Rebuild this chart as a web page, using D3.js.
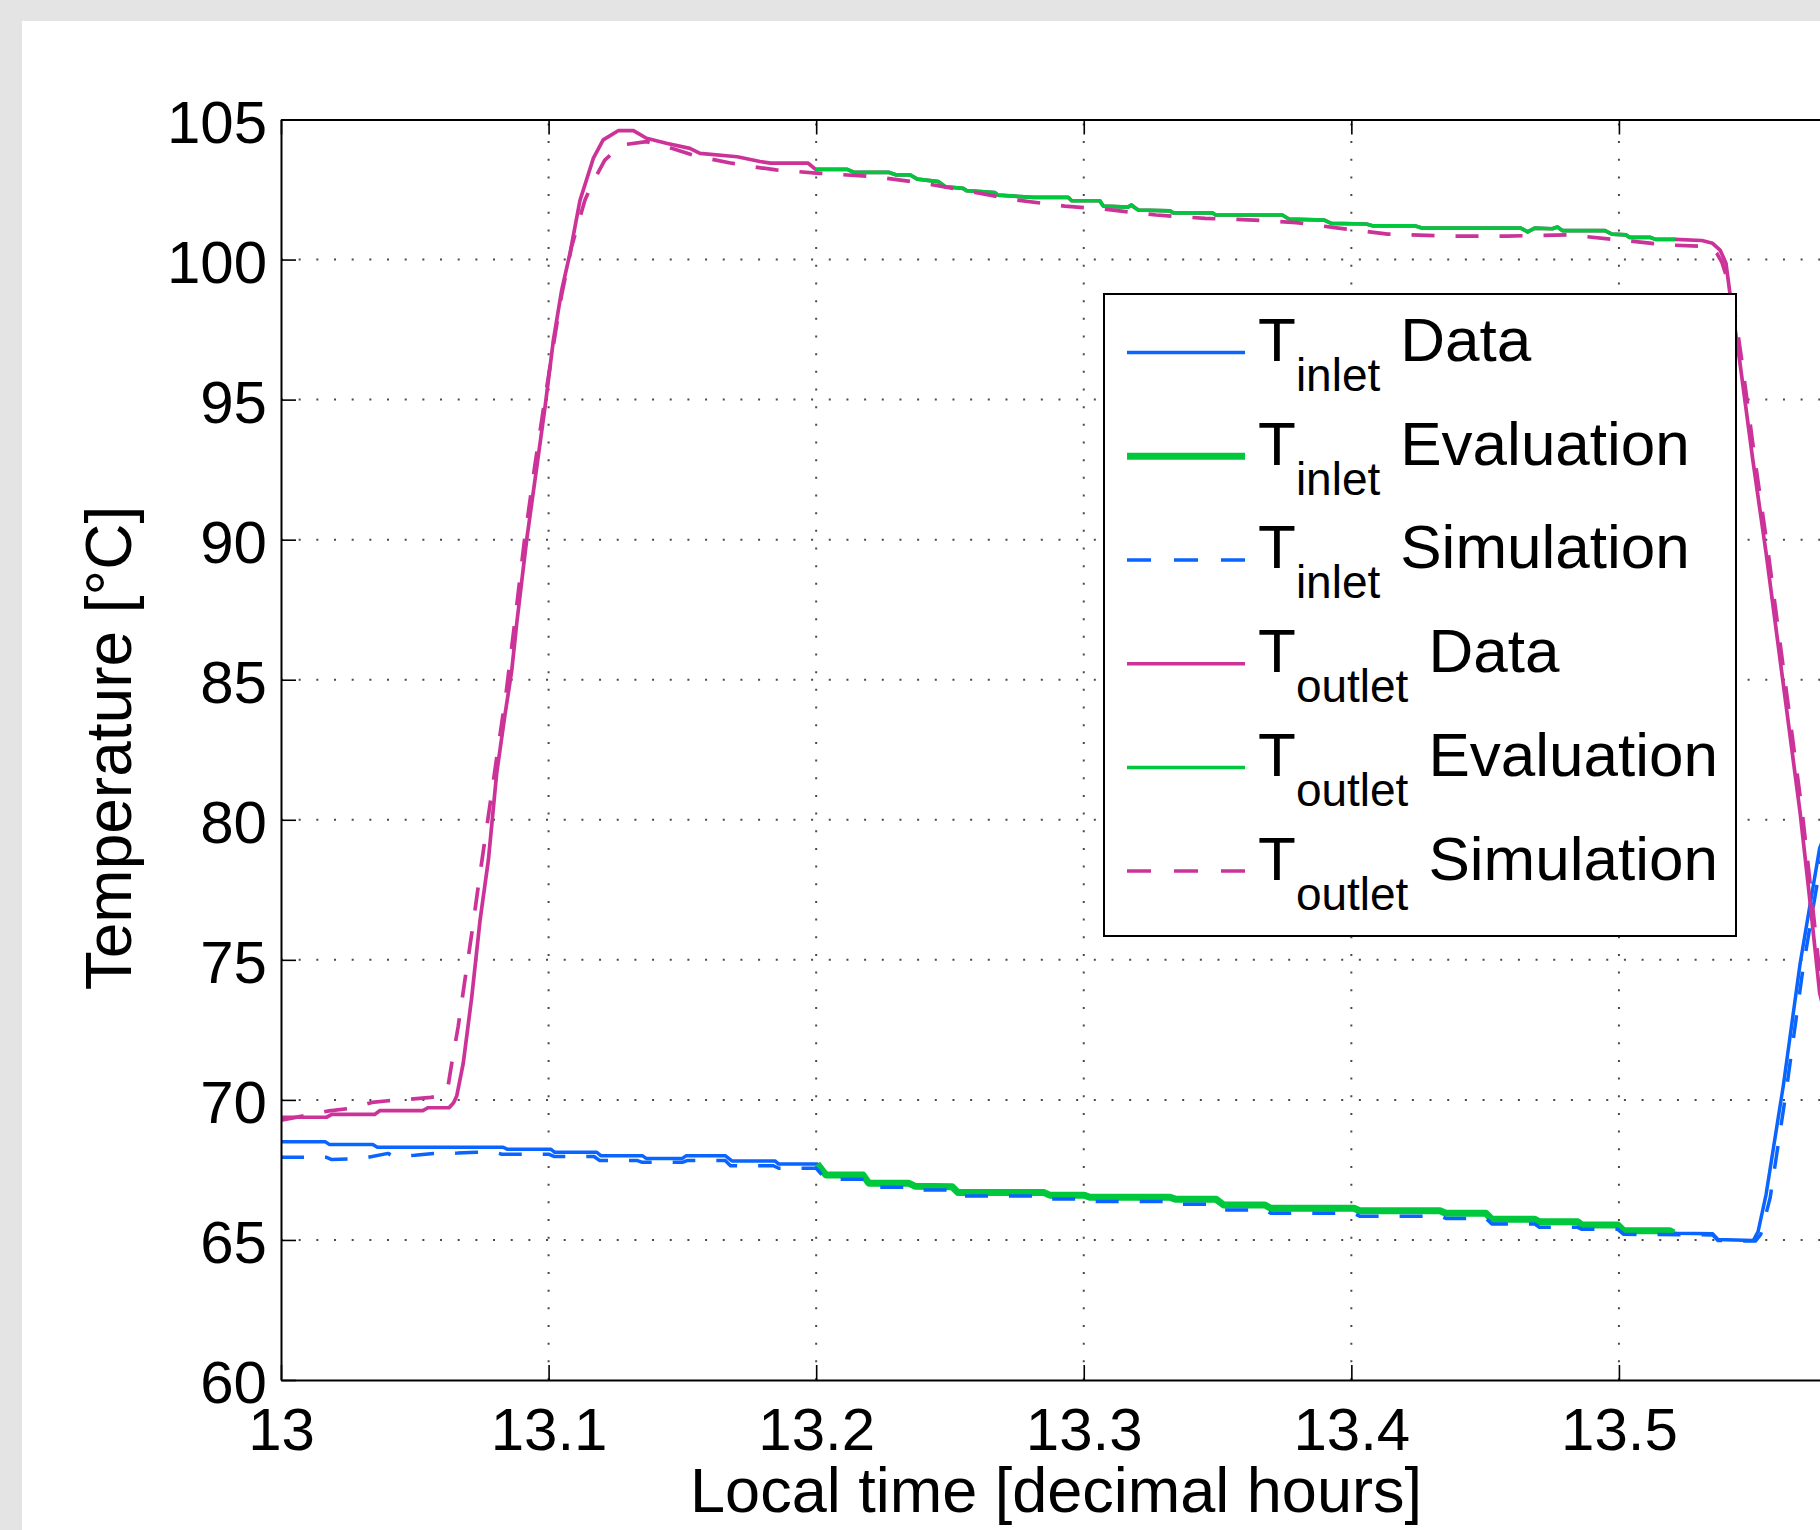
<!DOCTYPE html>
<html>
<head>
<meta charset="utf-8">
<script src="https://cdn.jsdelivr.net/npm/d3@7"></script>
<style>
  html, body { margin: 0; padding: 0; background: #e4e4e4; }
  svg { display: block; }
  text { font-family: "Liberation Sans", Arial, Helvetica, sans-serif; fill: #000; }
</style>
</head>
<body>
<svg id="chart" width="1820" height="1530"></svg>
<script>
// ---------------- DATA ----------------
const xTicks = [13, 13.1, 13.2, 13.3, 13.4, 13.5];
const xTickLabels = ["13", "13.1", "13.2", "13.3", "13.4", "13.5"];
const yTicks = [60, 65, 70, 75, 80, 85, 90, 95, 100, 105];
const yTickLabels = ["60", "65", "70", "75", "80", "85", "90", "95", "100", "105"];

const legendLabels = [
  ["T", "inlet", "Data"],
  ["T", "inlet", "Evaluation"],
  ["T", "inlet", "Simulation"],
  ["T", "outlet", "Data"],
  ["T", "outlet", "Evaluation"],
  ["T", "outlet", "Simulation"]
];

// T_inlet data: before evaluation window
const inletDataHead = [
  [13.000, 68.51], [13.0165, 68.51], [13.018, 68.41], [13.0343, 68.41], [13.036, 68.31],
  [13.083, 68.31], [13.0845, 68.24], [13.1008, 68.24], [13.1023, 68.13], [13.118, 68.13],
  [13.1195, 68.01], [13.135, 68.01], [13.1365, 67.91], [13.150, 67.91], [13.1515, 68.01],
  [13.166, 68.01], [13.1685, 67.82], [13.1846, 67.82], [13.186, 67.71], [13.2003, 67.71]
];
// T_inlet evaluation (thick green), also the data track underneath
const inletEval = [
  [13.2004, 67.71], [13.2036, 67.32], [13.2175, 67.32], [13.2197, 67.02], [13.2347, 67.02],
  [13.2369, 66.92], [13.2508, 66.90], [13.2530, 66.69], [13.2852, 66.69], [13.2873, 66.60],
  [13.3002, 66.60], [13.3023, 66.52], [13.3323, 66.52], [13.3345, 66.45], [13.3495, 66.45],
  [13.3523, 66.25], [13.3677, 66.25], [13.3699, 66.13], [13.4010, 66.13], [13.4031, 66.04],
  [13.4331, 66.04], [13.4353, 65.95], [13.4503, 65.95], [13.4525, 65.74], [13.4686, 65.74],
  [13.4703, 65.65], [13.4846, 65.65], [13.4862, 65.53], [13.4996, 65.53], [13.5018, 65.33],
  [13.5189, 65.33], [13.5205, 65.25]
];
// T_inlet data: after evaluation window
const inletDataTail = [
  [13.5215, 65.24], [13.535, 65.22], [13.537, 65.02], [13.5502, 64.98], [13.552, 65.30],
  [13.555, 66.63], [13.5614, 70.49], [13.5677, 74.86], [13.5727, 77.69], [13.575, 78.98],
  [13.582, 80.70]
];
// T_inlet simulation (blue dashed)
const inletSim = [
  [13.000, 67.95], [13.017, 67.95], [13.019, 67.87], [13.030, 67.90], [13.040, 68.09],
  [13.042, 67.98], [13.050, 68.02], [13.057, 68.09], [13.066, 68.10], [13.073, 68.13],
  [13.080, 68.13], [13.0825, 68.06], [13.100, 68.06], [13.102, 67.98], [13.117, 67.98],
  [13.119, 67.84], [13.133, 67.84], [13.135, 67.77], [13.150, 67.77], [13.152, 67.84],
  [13.166, 67.84], [13.168, 67.65], [13.184, 67.65], [13.186, 67.56], [13.2, 67.56],
  [13.2036, 67.17], [13.218, 67.17], [13.220, 66.88], [13.235, 66.88], [13.237, 66.78],
  [13.251, 66.78], [13.253, 66.57], [13.2852, 66.57], [13.2873, 66.46], [13.3002, 66.46],
  [13.3023, 66.37], [13.3323, 66.37], [13.3345, 66.27], [13.3495, 66.27], [13.3523, 66.07],
  [13.3677, 66.07], [13.3699, 65.95], [13.4010, 65.95], [13.4031, 65.85], [13.4331, 65.85],
  [13.4353, 65.77], [13.4503, 65.77], [13.4525, 65.57], [13.4686, 65.57], [13.4703, 65.45],
  [13.4846, 65.45], [13.4862, 65.38], [13.4996, 65.38], [13.5018, 65.20], [13.535, 65.18],
  [13.537, 64.98], [13.551, 64.96], [13.553, 65.20], [13.5565, 66.50], [13.5625, 70.30],
  [13.5688, 74.70], [13.5737, 77.50], [13.576, 78.80], [13.583, 80.60]
];

// T_outlet data: before evaluation window
const outletDataHead = [
  [13.000, 69.38], [13.017, 69.38], [13.019, 69.48], [13.035, 69.48], [13.037, 69.62],
  [13.053, 69.62], [13.055, 69.72], [13.0628, 69.72], [13.0645, 69.90], [13.0657, 70.15],
  [13.0681, 71.30], [13.0713, 73.68], [13.0744, 76.42], [13.0775, 78.56], [13.0806, 81.66],
  [13.0837, 83.75], [13.0862, 85.30], [13.0881, 87.01], [13.0918, 89.99], [13.0956, 92.60],
  [13.0987, 94.75], [13.1018, 97.13], [13.1049, 98.91], [13.1080, 100.22], [13.1117, 102.10],
  [13.1167, 103.61], [13.1204, 104.27], [13.1260, 104.60], [13.1317, 104.60], [13.1366, 104.33],
  [13.1440, 104.15], [13.1528, 103.97], [13.1566, 103.79], [13.1705, 103.67], [13.1790, 103.50],
  [13.1830, 103.44], [13.1970, 103.44]
];
// T_outlet evaluation (thin green), also the data track underneath
const outletEval = [
  [13.1998, 103.22], [13.2116, 103.22], [13.2143, 103.11], [13.2273, 103.11], [13.2300, 103.02],
  [13.2352, 103.02], [13.2378, 102.87], [13.2457, 102.78], [13.2483, 102.60], [13.2549, 102.54],
  [13.2562, 102.46], [13.2667, 102.39], [13.2680, 102.30], [13.2811, 102.22], [13.2942, 102.22],
  [13.2955, 102.10], [13.3060, 102.10], [13.3073, 101.91], [13.3165, 101.87], [13.3178, 101.95],
  [13.3191, 101.85], [13.3204, 101.77], [13.3322, 101.74], [13.3335, 101.67], [13.3480, 101.67],
  [13.3493, 101.59], [13.3742, 101.59], [13.3768, 101.44], [13.3899, 101.41], [13.3925, 101.29],
  [13.4056, 101.27], [13.4082, 101.20], [13.4240, 101.20], [13.4266, 101.12], [13.4633, 101.12],
  [13.4659, 100.99], [13.4685, 101.12], [13.4751, 101.10], [13.4770, 101.16], [13.4790, 101.03],
  [13.4948, 101.03], [13.4974, 100.91], [13.5027, 100.88], [13.5040, 100.79], [13.5118, 100.79],
  [13.5137, 100.72], [13.5210, 100.72]
];
// T_outlet data: after evaluation window
const outletDataTail = [
  [13.5310, 100.68], [13.5350, 100.58], [13.5378, 100.34], [13.5400, 99.87], [13.5415, 98.78],
  [13.5450, 96.47], [13.5500, 92.87], [13.5550, 89.52], [13.5610, 85.15], [13.5677, 80.26],
  [13.5710, 77.44], [13.5750, 73.83], [13.5820, 71.00]
];
// T_outlet simulation (magenta dashed)
const outletSim = [
  [13.000, 69.28], [13.008, 69.42], [13.018, 69.61], [13.026, 69.70], [13.034, 69.91],
  [13.040, 69.97], [13.048, 70.02], [13.056, 70.09], [13.060, 70.15], [13.0625, 70.53],
  [13.0638, 71.30], [13.0662, 72.61], [13.0691, 74.52], [13.0713, 75.95], [13.0737, 77.61],
  [13.0762, 79.28], [13.0787, 80.94], [13.0812, 82.61], [13.0841, 84.51], [13.0873, 87.01],
  [13.0910, 89.99], [13.0948, 92.60], [13.0982, 94.75], [13.1018, 96.95], [13.1048, 98.70],
  [13.1086, 100.46], [13.1136, 102.13], [13.1167, 102.78], [13.1210, 103.55], [13.1273, 104.09],
  [13.1366, 104.21], [13.1440, 104.03], [13.1540, 103.73], [13.1610, 103.58], [13.1684, 103.44],
  [13.1759, 103.32], [13.1850, 103.20], [13.2011, 103.08], [13.2220, 102.96], [13.2404, 102.72],
  [13.2560, 102.46], [13.2745, 102.13], [13.2929, 101.91], [13.3086, 101.79], [13.3270, 101.59],
  [13.3453, 101.47], [13.3637, 101.41], [13.3794, 101.32], [13.3952, 101.12], [13.4136, 100.91],
  [13.4345, 100.84], [13.4581, 100.84], [13.4816, 100.88], [13.5000, 100.70], [13.5184, 100.52],
  [13.5340, 100.46], [13.5366, 100.22], [13.5385, 99.90], [13.5423, 98.78], [13.5458, 96.47],
  [13.5508, 92.87], [13.5558, 89.52], [13.5618, 85.15], [13.5685, 80.26], [13.5718, 77.44],
  [13.5758, 73.83], [13.5830, 71.00]
];

// ---------------- CHART ----------------
(function () {
const svg = d3.select("#chart");
const W = 1820, H = 1530;
const pLeft = 281, pTop = 119.5, pBottom = 1380, pRight = 1833;

svg.append("rect").attr("x", 0).attr("y", 0).attr("width", W).attr("height", H).attr("fill", "#e4e4e4");
svg.append("rect").attr("x", 22).attr("y", 21).attr("width", W - 22).attr("height", H - 21).attr("fill", "#ffffff");

const x = d3.scaleLinear().domain([13, 13.58]).range([pLeft, pRight]);
const y = d3.scaleLinear().domain([60, 105]).range([pBottom, pTop]);

const blue = "#0a64ff", green = "#00c83c", magenta = "#cc3399";

svg.append("defs").append("clipPath").attr("id", "plotclip")
  .append("rect").attr("x", pLeft).attr("y", pTop).attr("width", pRight - pLeft).attr("height", pBottom - pTop);

// grid
const grid = svg.append("g").attr("stroke", "#4a4a4a").attr("stroke-width", 2).attr("stroke-dasharray", "2 15.67");
xTicks.filter(v => v > 13).forEach(v => {
  grid.append("line").attr("x1", x(v)).attr("x2", x(v)).attr("y1", pBottom).attr("y2", pTop);
});
yTicks.filter(v => v > 60 && v < 105).forEach(v => {
  grid.append("line").attr("x1", pLeft).attr("x2", pRight).attr("y1", y(v)).attr("y2", y(v));
});

// lines
const line = d3.line().x(d => x(d[0])).y(d => y(d[1]));
const plot = svg.append("g").attr("clip-path", "url(#plotclip)").attr("fill", "none")
  .attr("stroke-linejoin", "round").attr("stroke-linecap", "butt");

const series = [
  { data: inletDataHead.concat(inletEval, inletDataTail), color: blue, width: 3.5, dash: null },
  { data: inletEval, color: green, width: 7, dash: null },
  { data: inletSim, color: blue, width: 3.5, dash: "23 21" },
  { data: outletDataHead.concat(outletEval, outletDataTail), color: magenta, width: 3.7, dash: null },
  { data: outletEval, color: green, width: 3.7, dash: null },
  { data: outletSim, color: magenta, width: 3.7, dash: "23 21" }
];
series.forEach(s => {
  plot.append("path").attr("d", line(s.data)).attr("stroke", s.color)
    .attr("stroke-width", s.width).attr("stroke-dasharray", s.dash);
});

// axes
const fs = 60;
const yAxis = d3.axisLeft(y).tickValues(yTicks).tickFormat((d, i) => yTickLabels[i])
  .tickSize(-15).tickSizeOuter(0).tickPadding(14);
const xAxis = d3.axisBottom(x).tickValues(xTicks).tickFormat((d, i) => xTickLabels[i])
  .tickSize(-15).tickSizeOuter(0).tickPadding(27);
const xAxisTop = d3.axisTop(x).tickValues(xTicks).tickFormat("").tickSize(-15).tickSizeOuter(0);

function styleAxis(g) {
  g.select(".domain").attr("stroke", "#000").attr("stroke-width", 2);
  g.selectAll(".tick line").attr("stroke", "#000").attr("stroke-width", 1.6);
  g.selectAll(".tick text").attr("font-size", fs)
    .attr("font-family", "'Liberation Sans', Arial, Helvetica, sans-serif").attr("fill", "#000");
}
const gy = svg.append("g").attr("transform", `translate(${pLeft},0)`).call(yAxis).call(styleAxis);
gy.selectAll(".tick text").attr("dy", "0.38em");
svg.append("g").attr("transform", `translate(0,${pBottom})`).call(xAxis).call(styleAxis);
svg.append("g").attr("transform", `translate(0,${pTop})`).call(xAxisTop).call(styleAxis);

// axis labels
svg.append("text").attr("x", 1056).attr("y", 1512).attr("text-anchor", "middle")
  .attr("font-size", 63).text("Local time [decimal hours]");
svg.append("text").attr("transform", "translate(131,748) rotate(-90)").attr("text-anchor", "middle")
  .attr("font-size", 64).text("Temperature [°C]");

// legend
const lg = svg.append("g");
lg.append("rect").attr("x", 1104).attr("y", 294).attr("width", 632).attr("height", 642)
  .attr("fill", "#fff").attr("stroke", "#000").attr("stroke-width", 2);
const rowH = 103.7;
series.forEach((s, i) => {
  const ly = 352.6 + i * rowH;
  lg.append("line").attr("x1", 1127).attr("x2", 1245).attr("y1", ly).attr("y2", ly)
    .attr("stroke", s.color).attr("stroke-width", i === 1 ? 7 : 3.5)
    .attr("stroke-dasharray", s.dash ? "24 23" : null);
  const t = lg.append("text").attr("x", 1258).attr("y", 361 + i * rowH).attr("font-size", 62);
  t.append("tspan").text(legendLabels[i][0]);
  t.append("tspan").attr("dy", 30).attr("font-size", 46).text(legendLabels[i][1]);
  t.append("tspan").attr("dy", -30).attr("dx", 20).text(legendLabels[i][2]);
});
})();
</script>
</body>
</html>
